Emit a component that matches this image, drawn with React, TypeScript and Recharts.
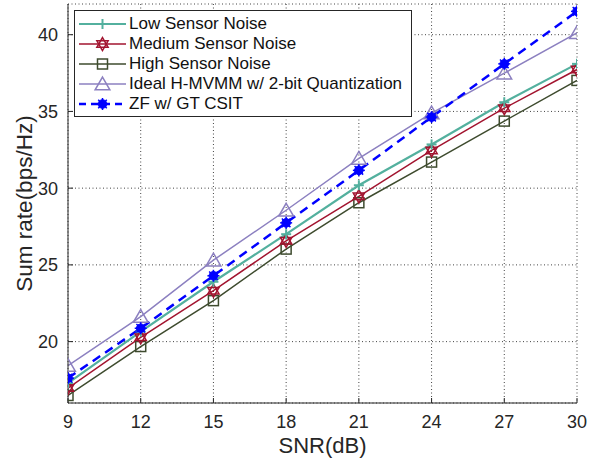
import React from 'react';
import { LineChart, Line, XAxis, YAxis, CartesianGrid } from 'recharts';

const snr = [9, 12, 15, 18, 21, 24, 27, 30];
const lowNoise = [17.3, 20.65, 23.9, 27.0, 30.19, 32.85, 35.6, 38.1];
const mediumNoise = [16.97, 20.28, 23.32, 26.57, 29.47, 32.46, 35.21, 37.73];
const highNoise = [16.49, 19.68, 22.67, 26.03, 29.05, 31.7, 34.37, 37.02];
const idealQuant = [18.44, 21.63, 25.31, 28.56, 31.94, 34.89, 37.49, 40.12];
const zfGt = [17.62, 20.87, 24.29, 27.74, 31.16, 34.63, 38.1, 41.52];

const xTicks = [9, 12, 15, 18, 21, 24, 27, 30];
const yTicks = [20, 25, 30, 35, 40];

const data = snr.map((s, i) => ({
  snr: s,
  low: lowNoise[i],
  medium: mediumNoise[i],
  high: highNoise[i],
  ideal: idealQuant[i],
  zf: zfGt[i],
}));

const C_LOW = '#53B09E';
const C_MED = '#A2142F';
const C_HIGH = '#3E4B2E';
const C_IDEAL = '#8C80C0';
const C_ZF = '#0000FF';

type MK = 'plus' | 'hex' | 'square' | 'tri' | 'dot';

function markerShape(kind: MK, cx: number, cy: number, color: string, key?: any) {
  if (kind === 'plus') {
    return (
      <g key={key}>
        <line x1={cx - 5} y1={cy} x2={cx + 5} y2={cy} stroke={color} strokeWidth={2} />
        <line x1={cx} y1={cy - 5} x2={cx} y2={cy + 5} stroke={color} strokeWidth={2} />
      </g>
    );
  }
  if (kind === 'hex') {
    const r = 6.5;
    const t1 = [0, 1, 2].map((k) => {
      const a = -Math.PI / 2 + (k * 2 * Math.PI) / 3;
      return `${cx + r * Math.cos(a)},${cy + r * Math.sin(a)}`;
    }).join(' ');
    const t2 = [0, 1, 2].map((k) => {
      const a = Math.PI / 2 + (k * 2 * Math.PI) / 3;
      return `${cx + r * Math.cos(a)},${cy + r * Math.sin(a)}`;
    }).join(' ');
    return (
      <g key={key}>
        <polygon points={t1} fill="none" stroke={color} strokeWidth={1.5} />
        <polygon points={t2} fill="none" stroke={color} strokeWidth={1.5} />
      </g>
    );
  }
  if (kind === 'square') {
    return <rect key={key} x={cx - 5} y={cy - 5} width={10} height={10} fill="none" stroke={color} strokeWidth={1.5} />;
  }
  if (kind === 'tri') {
    const r = 8.5;
    const pts = [0, 1, 2].map((k) => {
      const a = -Math.PI / 2 + (k * 2 * Math.PI) / 3;
      return `${cx + r * Math.cos(a)},${cy + r * Math.sin(a) + 1.5}`;
    }).join(' ');
    return <polygon key={key} points={pts} fill="none" stroke={color} strokeWidth={1.5} />;
  }
  return (
    <g key={key}>
      <circle cx={cx} cy={cy} r={4.3} fill={color} stroke={color} />
      <line x1={cx - 6} y1={cy} x2={cx + 6} y2={cy} stroke={color} strokeWidth={1.5} />
      <line x1={cx} y1={cy - 6} x2={cx} y2={cy + 6} stroke={color} strokeWidth={1.5} />
      <line x1={cx - 4.3} y1={cy - 4.3} x2={cx + 4.3} y2={cy + 4.3} stroke={color} strokeWidth={1.5} />
      <line x1={cx - 4.3} y1={cy + 4.3} x2={cx + 4.3} y2={cy - 4.3} stroke={color} strokeWidth={1.5} />
    </g>
  );
}

const mkDot = (kind: MK, color: string) => (props: any) => {
  const { cx, cy, key, index } = props;
  if (cx == null || cy == null) return <g key={key ?? index} />;
  return markerShape(kind, cx, cy, color, key ?? `${kind}-${index}`);
};

const legendItems: { label: string; color: string; kind: MK; width: number; dash?: string }[] = [
  { label: 'Low Sensor Noise', color: C_LOW, kind: 'plus', width: 2 },
  { label: 'Medium Sensor Noise', color: C_MED, kind: 'hex', width: 1.5 },
  { label: 'High Sensor Noise', color: C_HIGH, kind: 'square', width: 1.5 },
  { label: 'Ideal H-MVMM w/ 2-bit Quantization', color: C_IDEAL, kind: 'tri', width: 1.5 },
  { label: 'ZF w/ GT CSIT', color: C_ZF, kind: 'dot', width: 2.5, dash: '7 5' },
];

const FONT = '"Liberation Sans", Arial, Helvetica, sans-serif';
const TXT = '#262626';

export default function App() {
  return (
    <div style={{ position: 'absolute', left: 0, top: 0, width: 600, height: 459, background: '#fff', fontFamily: FONT }}>
      <LineChart width={600} height={459} data={data} margin={{ top: 4, right: 23, left: 0, bottom: 0 }}>
        <CartesianGrid stroke="#444" strokeWidth={1} strokeDasharray="1 2.5" />
        <XAxis
          dataKey="snr"
          type="number"
          domain={[9, 30]}
          ticks={xTicks}
          height={56}
          tickSize={-5}
          tickMargin={17}
          stroke={TXT}
          tick={{ fill: TXT, fontSize: 18, fontFamily: FONT }}
          allowDataOverflow
          label={{
            content: (p: any) => {
              const vb = p.viewBox;
              return (
                <text x={vb.x + vb.width / 2} y={vb.y + 50} textAnchor="middle" fontSize={22} fill={TXT} fontFamily={FONT}>
                  SNR(dB)
                </text>
              );
            },
          }}
        />
        <XAxis
          xAxisId="top"
          orientation="top"
          dataKey="snr"
          type="number"
          domain={[9, 30]}
          ticks={xTicks}
          height={0}
          tickSize={-5}
          tickFormatter={() => ''}
          stroke={TXT}
        />
        <YAxis
          type="number"
          domain={[16, 42]}
          ticks={yTicks}
          width={68}
          tickSize={-5}
          tickMargin={15}
          stroke={TXT}
          tick={{ fill: TXT, fontSize: 18, fontFamily: FONT }}
          allowDataOverflow
          label={{
            content: (p: any) => {
              const vb = p.viewBox;
              const x = vb.x + 31.5;
              const y = vb.y + vb.height / 2;
              return (
                <text x={x} y={y} transform={`rotate(-90 ${x} ${y})`} textAnchor="middle" fontSize={22.5} fill={TXT} fontFamily={FONT}>
                  Sum rate(bps/Hz)
                </text>
              );
            },
          }}
        />
        <YAxis
          yAxisId="right"
          orientation="right"
          type="number"
          domain={[16, 42]}
          ticks={yTicks}
          width={0}
          tickSize={-5}
          tickFormatter={() => ''}
          stroke={TXT}
        />
        <Line dataKey="high" stroke={C_HIGH} strokeWidth={1.5} dot={mkDot('square', C_HIGH)} isAnimationActive={false} />
        <Line dataKey="medium" stroke={C_MED} strokeWidth={1.5} dot={mkDot('hex', C_MED)} isAnimationActive={false} />
        <Line dataKey="low" stroke={C_LOW} strokeWidth={2.2} dot={mkDot('plus', C_LOW)} isAnimationActive={false} />
        <Line dataKey="ideal" stroke={C_IDEAL} strokeWidth={1.5} dot={mkDot('tri', C_IDEAL)} isAnimationActive={false} />
        <Line dataKey="zf" stroke={C_ZF} strokeWidth={2.5} strokeDasharray="9 6" dot={mkDot('dot', C_ZF)} isAnimationActive={false} />
      </LineChart>
      <div
        style={{
          position: 'absolute',
          left: 74,
          top: 10,
          width: 336,
          height: 105,
          border: `1px solid ${TXT}`,
          background: '#fff',
          boxSizing: 'content-box',
        }}
      >
        {legendItems.map((it, i) => (
          <div key={it.label} style={{ position: 'absolute', left: 0, top: 3 + i * 20, height: 20, display: 'flex', alignItems: 'center' }}>
            <svg width={54} height={20} style={{ display: 'block' }}>
              <line x1={4} y1={10} x2={51} y2={10} stroke={it.color} strokeWidth={it.width} strokeDasharray={it.dash} />
              {markerShape(it.kind, 27.5, 10, it.color)}
            </svg>
            <span style={{ fontSize: 17, color: '#111', whiteSpace: 'nowrap', lineHeight: '20px' }}>{it.label}</span>
          </div>
        ))}
      </div>
    </div>
  );
}
